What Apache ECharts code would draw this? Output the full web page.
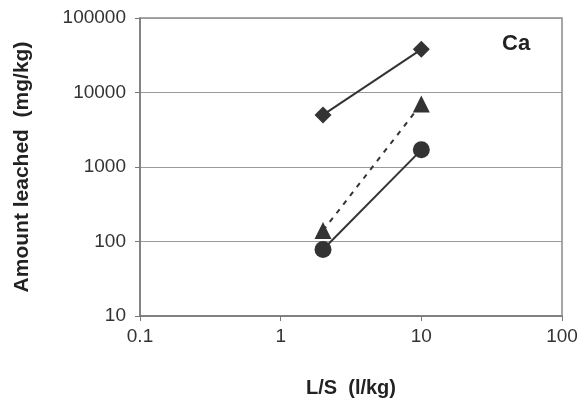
<!DOCTYPE html>
<html>
<head>
<meta charset="utf-8">
<script src="https://cdn.jsdelivr.net/npm/echarts@6/dist/echarts.min.js"></script>
<style>
html,body{margin:0;padding:0;background:#fff;}
#chart{width:582px;height:405px;}
</style>
</head>
<body>
<div id="chart"></div>
<script>
// 数据
var lsValues = [2, 10];
var diamondVals = [5000, 38000];
var triangleVals = [140, 7000];
var circleVals = [78, 1700];

function pairs(xs, ys){
	var out = [];
	for(var i = 0;i<xs.length;i++){
		out.push([xs[i], ys[i]]);
	}
	return out;
}

var chart = echarts.init(document.getElementById('chart'));
var font = 'Liberation Sans, Arial, sans-serif';

var option = {
	animation:false,
	backgroundColor:'#fff',
	grid:{
		left:140, right:20, top:18, bottom:89,
		show:true, borderColor:'#8a8a8a', borderWidth:1.5
	},
	title:{
		text:'Ca', left:497, top:28,
		textStyle:{fontFamily:font, fontSize:22, fontWeight:'bold', color:'#222'}
	},
	xAxis:{
		type:'log', logBase:10, min:0.1, max:100,
		name:'L/S  (l/kg)', nameLocation:'middle', nameGap:62,
		nameTextStyle:{fontFamily:font, fontSize:20, fontWeight:'bold', color:'#222'},
		axisLine:{show:true, lineStyle:{color:'#777', width:1.5}},
		axisTick:{show:true, length:5, lineStyle:{color:'#777'}},
		axisLabel:{fontFamily:font, fontSize:19, color:'#333', margin:11,
			formatter:function(v){ return String(v); }},
		splitLine:{show:false},
		minorTick:{show:false}
	},
	yAxis:{
		type:'log', logBase:10, min:10, max:100000,
		name:'Amount leached  (mg/kg)', nameLocation:'middle', nameGap:107,
		nameTextStyle:{fontFamily:font, fontSize:21, fontWeight:'bold', color:'#222'},
		axisLine:{show:true, lineStyle:{color:'#777', width:1.5}},
		axisTick:{show:true, length:5, lineStyle:{color:'#777'}},
		axisLabel:{fontFamily:font, fontSize:19, color:'#333', margin:14,
			formatter:function(v){ return String(v); }},
		splitLine:{show:true, lineStyle:{color:'#9a9a9a', width:1}}
	},
	series:[{
		name:'diamond', type:'line',
		data:pairs(lsValues, diamondVals),
		symbol:'diamond', symbolSize:17,
		lineStyle:{color:'#333', width:2},
		itemStyle:{color:'#333'}
	},{
		name:'triangle', type:'line',
		data:pairs(lsValues, triangleVals),
		symbol:'triangle', symbolSize:17,
		lineStyle:{color:'#333', width:2, type:[5,6]},
		itemStyle:{color:'#333'}
	},{
		name:'circle', type:'line',
		data:pairs(lsValues, circleVals),
		symbol:'circle', symbolSize:17,
		lineStyle:{color:'#333', width:2},
		itemStyle:{color:'#333'}
	}]
};

chart.setOption(option);
</script>
</body>
</html>
